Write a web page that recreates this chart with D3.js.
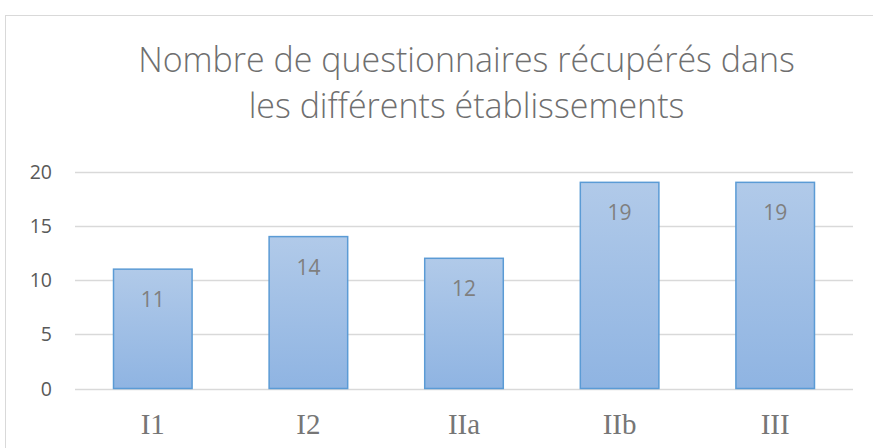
<!DOCTYPE html>
<html><head><meta charset="utf-8">
<script src="https://cdn.jsdelivr.net/npm/d3@7"></script>
<style>html,body{margin:0;padding:0;background:#fff;}svg{display:block;}</style>
</head><body>
<script>
const categories = ["I1", "I2", "IIa", "IIb", "III"];
const values = [11, 14, 12, 19, 19];
const yTicks = [0, 5, 10, 15, 20];
const titleLines = ["Nombre de questionnaires récupérés dans", "les différents établissements"];

const W = 873, H = 448;
const svg = d3.select("body").append("svg").attr("width", W).attr("height", H);

// chart frame
svg.append("rect").attr("x", 5.5).attr("y", 15.5).attr("width", 900).attr("height", 500)
  .attr("fill", "#fff").attr("stroke", "#d9d9d9").attr("stroke-width", 1);

const plotL = 75, plotR = 853, plotT = 171.5, plotB = 388.5;
const x = d3.scaleBand().domain(categories).range([plotL, plotR]).padding(0);
const y = d3.scaleLinear().domain([0, 20]).range([plotB, plotT]);

const defs = svg.append("defs");
const grad = defs.append("linearGradient").attr("id", "g").attr("x1", 0).attr("y1", 0).attr("x2", 0).attr("y2", 1);
grad.append("stop").attr("offset", "0%").attr("stop-color", "#b1cae9");
grad.append("stop").attr("offset", "100%").attr("stop-color", "#8fb4e2");

// gridlines
svg.append("g").selectAll("line").data(yTicks).join("line")
  .attr("x1", plotL).attr("x2", plotR)
  .attr("y1", d => Math.round(y(d)) + 0.5).attr("y2", d => Math.round(y(d)) + 0.5)
  .attr("stroke", "#d9d9d9").attr("stroke-width", 1.3);

// y tick labels
svg.append("g").selectAll("text").data(yTicks).join("text")
  .attr("x", 52).attr("y", d => y(d) + 7)
  .attr("text-anchor", "end")
  .attr("font-family", "'Open Sans', sans-serif").attr("font-size", 19.5)
  .attr("fill", "#595959").text(d => d);

// bars
const barW = x.bandwidth() * 0.505;
svg.append("g").selectAll("rect").data(values).join("rect")
  .attr("x", (d, i) => x(categories[i]) + (x.bandwidth() - barW) / 2)
  .attr("y", d => y(d))
  .attr("width", barW)
  .attr("height", d => y(0) - y(d))
  .attr("fill", "url(#g)")
  .attr("stroke", "#5b9bd5").attr("stroke-width", 1.5);

// value labels
svg.append("g").selectAll("text").data(values).join("text")
  .attr("x", (d, i) => x(categories[i]) + x.bandwidth() / 2)
  .attr("y", d => y(d) + 38)
  .attr("text-anchor", "middle")
  .attr("font-family", "'Open Sans', sans-serif").attr("font-size", 21)
  .attr("fill", "#7f7f7f").text(d => d);

// category labels
svg.append("g").selectAll("text").data(categories).join("text")
  .attr("x", d => x(d) + x.bandwidth() / 2)
  .attr("y", 434)
  .attr("text-anchor", "middle")
  .attr("font-family", "'Liberation Serif', 'Times New Roman', serif").attr("font-size", 29)
  .attr("fill", "#767676").text(d => d);

// title
const titleY = [72, 118];
const t = svg.append("g").selectAll("text").data(titleLines).join("text")
  .attr("x", 466.5).attr("y", (d, i) => titleY[i])
  .attr("text-anchor", "middle")
  .attr("font-family", "'Open Sans', sans-serif").attr("font-weight", 300)
  .attr("font-size", 32)
  .attr("fill", "#6f6f6f").text(d => d);
const w0 = t.nodes()[0].getComputedTextLength();
t.attr("font-size", 32 * 657 / w0);
</script>
</body></html>
